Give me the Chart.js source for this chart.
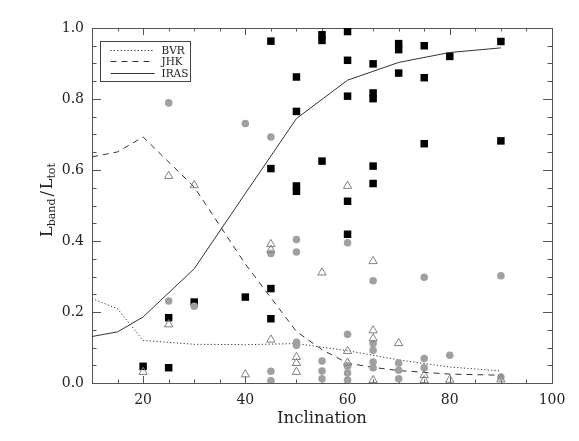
<!DOCTYPE html>
<html>
<head>
<meta charset="utf-8">
<script src="https://cdn.jsdelivr.net/npm/chart.js@4.4.0/dist/chart.umd.min.js"></script>
<style>
html, body { margin: 0; padding: 0; background: #fff; }
#wrap { position: relative; width: 579px; height: 441px; }
</style>
</head>
<body>
<div id="wrap"><canvas id="chart"></canvas></div>
<script>
// model curves
var bvrIncl = [10, 15, 20, 30, 40, 50, 60, 70, 80, 90];
var bvrFrac = [0.238, 0.209, 0.120, 0.109, 0.108, 0.111, 0.091, 0.065, 0.045, 0.034];
var jhkIncl = [10, 15, 20, 30, 40, 50, 55, 60, 65, 70, 80, 90];
var jhkFrac = [0.637, 0.651, 0.693, 0.552, 0.335, 0.145, 0.094, 0.056, 0.044, 0.035, 0.025, 0.022];
var irasIncl = [10, 15, 20, 30, 40, 50, 60, 70, 80, 90];
var irasFrac = [0.131, 0.144, 0.186, 0.322, 0.534, 0.745, 0.853, 0.903, 0.931, 0.944];

// black squares
var sqIncl = [20, 25, 25, 30, 40, 45, 45, 45, 45, 50, 50, 50, 50, 55, 55, 55, 60, 60, 60, 60, 60,
              65, 65, 65, 65, 65, 70, 70, 70, 75, 75, 75, 80, 90, 90];
var sqFrac = [0.047, 0.184, 0.043, 0.228, 0.242, 0.963, 0.604, 0.266, 0.181, 0.862, 0.765, 0.555, 0.540,
              0.981, 0.965, 0.625, 0.990, 0.909, 0.808, 0.512, 0.419, 0.899, 0.817, 0.801, 0.611, 0.562,
              0.956, 0.939, 0.873, 0.950, 0.860, 0.674, 0.920, 0.962, 0.682];
// grey dots
var dotIncl = [25, 25, 30, 40, 45, 45, 45, 45, 50, 50, 50, 50, 55, 55, 55, 60, 60, 60, 60, 60,
               65, 65, 65, 65, 65, 70, 70, 70, 75, 75, 75, 80, 90, 90];
var dotFrac = [0.789, 0.231, 0.216, 0.731, 0.693, 0.365, 0.033, 0.006, 0.404, 0.369, 0.115, 0.106,
               0.062, 0.034, 0.012, 0.395, 0.137, 0.047, 0.028, 0.008, 0.288, 0.111, 0.092, 0.059, 0.043,
               0.056, 0.036, 0.012, 0.298, 0.069, 0.043, 0.078, 0.302, 0.017];
// open triangles
var triIncl = [20, 25, 25, 30, 40, 45, 45, 45, 50, 50, 50, 55, 60, 60, 60, 65, 65, 65, 65, 70, 75, 75, 80, 90];
var triFrac = [0.031, 0.583, 0.165, 0.557, 0.024, 0.391, 0.375, 0.122, 0.073, 0.056, 0.031, 0.311,
               0.555, 0.090, 0.057, 0.343, 0.148, 0.125, 0.008, 0.112, 0.022, 0.008, 0.009, 0.010];

var xTicks = [20, 40, 60, 80, 100];
var yTicks = [0, 0.2, 0.4, 0.6, 0.8, 1.0];
var curveNames = ['BVR', 'JHK', 'IRAS'];
var curveDash = [[1.2, 2.2], [6, 5], []];

function pts(xs, ys) {
	return xs.map(function(v, i) { return {x: v, y: ys[i]}; });
}

var SERIF = '"DejaVu Serif", serif';

var framePlugin = {
	id: 'frame',
	beforeDatasetsDraw: function(chart) {
		var ctx = chart.ctx, a = chart.chartArea, sx = chart.scales.x, sy = chart.scales.y;
		ctx.save();
		ctx.strokeStyle = '#555';
		ctx.lineWidth = 1;
		ctx.strokeRect(Math.round(a.left) + 0.5, Math.round(a.top) + 0.5,
			Math.round(a.right - a.left), Math.round(a.bottom - a.top));
		ctx.beginPath();
		for (var v = 10; v <= 100; v += 5) {
			var px = Math.round(sx.getPixelForValue(v)) + 0.5;
			var len = v % 20 === 0 ? 7 : 3.5;
			ctx.moveTo(px, a.bottom); ctx.lineTo(px, a.bottom - len);
			ctx.moveTo(px, a.top); ctx.lineTo(px, a.top + len);
		}
		for (var i = 0; i <= 20; i++) {
			var py = Math.round(sy.getPixelForValue(i * 0.05)) + 0.5;
			var l2 = i % 4 === 0 ? 9 : 4.5;
			ctx.moveTo(a.left, py); ctx.lineTo(a.left + l2, py);
			ctx.moveTo(a.right, py); ctx.lineTo(a.right - l2, py);
		}
		ctx.stroke();
		ctx.restore();
	},
	afterDraw: function(chart) {
		var ctx = chart.ctx, a = chart.chartArea;
		ctx.save();
		// legend box
		var bx = a.left + 7.5, by = a.top + 13;
		ctx.strokeStyle = '#444';
		ctx.lineWidth = 1;
		ctx.strokeRect(Math.round(bx) + 0.5, Math.round(by) + 0.5, 90, 40);
		ctx.font = '10.5px ' + SERIF;
		ctx.fillStyle = '#222';
		ctx.textBaseline = 'middle';
		for (var k = 0; k < 3; k++) {
			var ry = Math.round(by + 8.5 + k * 11.5) + 0.5;
			ctx.beginPath();
			ctx.setLineDash(curveDash[k]);
			ctx.strokeStyle = '#333';
			ctx.moveTo(bx + 11, ry); ctx.lineTo(bx + 55, ry);
			ctx.stroke();
			ctx.setLineDash([]);
			ctx.fillText(curveNames[k], bx + 62, ry + 0.5);
		}
		// x title
		ctx.font = '16.5px ' + SERIF;
		ctx.textAlign = 'center';
		ctx.fillText('Inclination', (a.left + a.right) / 2, 419);
		// y title with subscripts
		var big = '16px ' + SERIF, small = '11px ' + SERIF;
		var parts = [['L', big, 0, 0], ['band', small, 4, 2], ['/', big, 0, 2], ['L', big, 0, 0], ['tot', small, 4, 0]];
		var total = 0;
		parts.forEach(function(p) { ctx.font = p[1]; p.push(ctx.measureText(p[0]).width); total += p[4] + p[3]; });
		ctx.translate(48, 200);
		ctx.rotate(-Math.PI / 2);
		ctx.textAlign = 'left';
		var cx = -total / 2;
		parts.forEach(function(p) {
			ctx.font = p[1];
			ctx.fillText(p[0], cx, p[2]);
			cx += p[4] + p[3];
		});
		ctx.restore();
	}
};

var ctx = document.getElementById('chart');

var myChart = new Chart(ctx, {
	type: 'scatter',
	data: {
		datasets: [
			{
				label: 'triangles',
				data: pts(triIncl, triFrac),
				pointStyle: 'triangle',
				pointRadius: 4.8,
				backgroundColor: 'rgba(0,0,0,0)',
				borderColor: '#808080',
				borderWidth: 1
			},
			{
				label: 'dots',
				data: pts(dotIncl, dotFrac),
				pointStyle: 'circle',
				pointRadius: 3.8,
				backgroundColor: '#a0a0a0',
				borderWidth: 0
			},
			{
				label: 'squares',
				data: pts(sqIncl, sqFrac),
				pointStyle: 'rect',
				pointRadius: 5.3,
				backgroundColor: '#000',
				borderWidth: 0
			},
			{
				label: curveNames[0],
				data: pts(bvrIncl, bvrFrac),
				showLine: true,
				pointRadius: 0,
				borderColor: '#333',
				borderWidth: 1,
				borderDash: curveDash[0],
				tension: 0
			},
			{
				label: curveNames[1],
				data: pts(jhkIncl, jhkFrac),
				showLine: true,
				pointRadius: 0,
				borderColor: '#333',
				borderWidth: 1,
				borderDash: curveDash[1],
				tension: 0
			},
			{
				label: curveNames[2],
				data: pts(irasIncl, irasFrac),
				showLine: true,
				pointRadius: 0,
				borderColor: '#333',
				borderWidth: 1,
				tension: 0
			}
		]
	},
	options: {
		responsive: true,
		maintainAspectRatio: false,
		animation: false,
		layout: { padding: { top: 28, right: 27, left: 0, bottom: 0 } },
		plugins: { legend: { display: false }, tooltip: { enabled: false } },
		scales: {
			x: {
				type: 'linear',
				min: 10,
				max: 100,
				afterFit: function(s) { s.height = 58; },
				afterBuildTicks: function(s) { s.ticks = xTicks.map(function(v) { return {value: v}; }); },
				grid: { display: false, drawTicks: false },
				border: { display: false },
				ticks: {
					padding: 9,
					autoSkip: false,
					maxRotation: 0,
					color: '#222',
					font: { family: SERIF, size: 14 }
				}
			},
			y: {
				type: 'linear',
				min: 0,
				max: 1,
				afterFit: function(s) { s.width = 92; },
				afterBuildTicks: function(s) { s.ticks = yTicks.map(function(v) { return {value: v}; }); },
				grid: { display: false, drawTicks: false },
				border: { display: false },
				ticks: {
					padding: 8,
					color: '#222',
					font: { family: SERIF, size: 14 },
					callback: function(v) { return Number(v).toFixed(1); }
				}
			}
		}
	},
	plugins: [framePlugin]
});
</script>
</body>
</html>
